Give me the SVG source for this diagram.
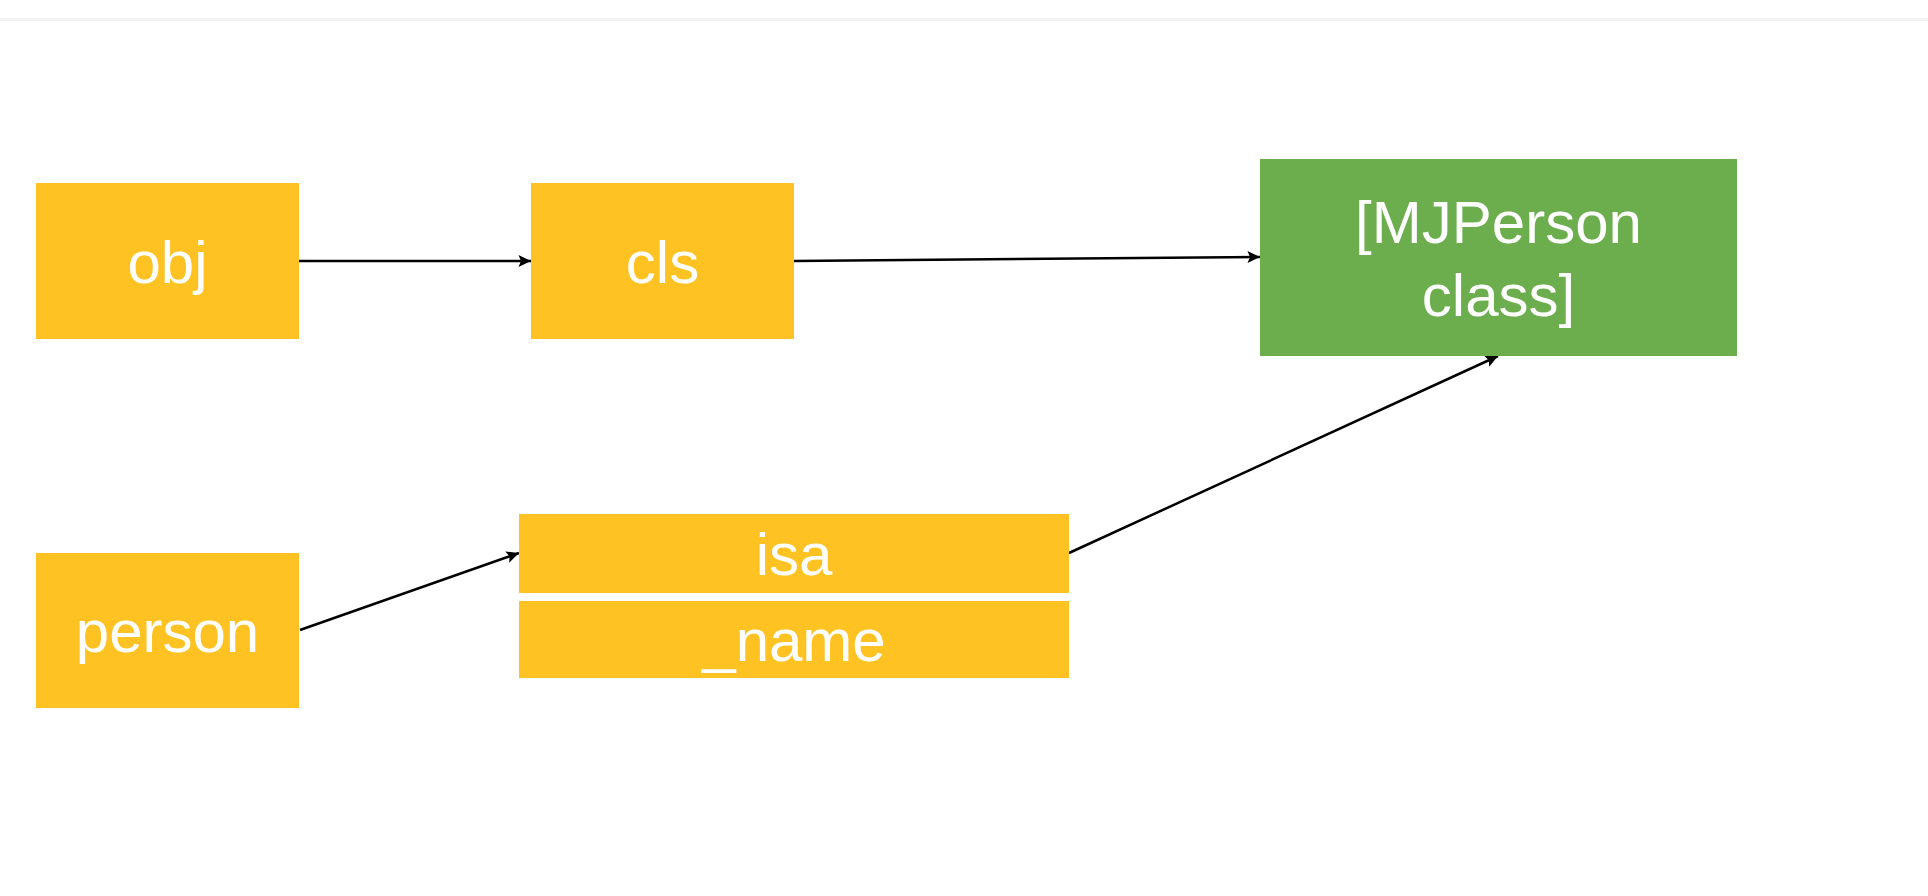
<svg xmlns="http://www.w3.org/2000/svg" width="1928" height="896" viewBox="0 0 1928 896">
  <defs>
    <style>
      .y { fill: #FEC322; }
      .g { fill: #6CAE4D; }
      .t { font-family: "Liberation Sans", Arial, Helvetica, sans-serif; font-size: 60px; fill: #FFFFFF; text-anchor: middle; }
      .c { fill: none; stroke: #000000; stroke-width: 2.5; }
    </style>
    <marker id="arr" markerUnits="userSpaceOnUse" markerWidth="14" markerHeight="14" refX="12.5" refY="6" orient="auto" overflow="visible">
      <path d="M0,0 L12.5,6 L0,12 L2.5,6 Z" fill="#000000"/>
    </marker>
  </defs>
  <rect x="0" y="0" width="1928" height="896" fill="#FFFFFF"/>
  <rect x="0" y="18" width="1928" height="3" fill="#F3F3F3"/>

  <g id="connectors">
    <line class="c" x1="299" y1="261" x2="531" y2="261" marker-end="url(#arr)"/>
    <line class="c" x1="794" y1="261" x2="1260" y2="257" marker-end="url(#arr)"/>
    <line class="c" x1="300" y1="630" x2="519" y2="553" marker-end="url(#arr)"/>
    <line class="c" x1="1069" y1="553" x2="1498" y2="356" marker-end="url(#arr)"/>
  </g>

  <g id="obj">
    <rect class="y" x="36" y="183" width="263" height="156"/>
    <text class="t" x="167.5" y="283">obj</text>
  </g>
  <g id="cls">
    <rect class="y" x="531" y="183" width="263" height="156"/>
    <text class="t" x="662.5" y="283">cls</text>
  </g>
  <g id="mjperson-class">
    <rect class="g" x="1260" y="159" width="477" height="197"/>
    <text class="t" x="1498.5" y="243">[MJPerson</text>
    <text class="t" x="1498.5" y="316">class]</text>
  </g>
  <g id="person">
    <rect class="y" x="36" y="553" width="263" height="155"/>
    <text class="t" x="167.5" y="652">person</text>
  </g>
  <g id="isa">
    <rect class="y" x="519" y="514" width="550" height="79"/>
    <text class="t" x="794" y="575">isa</text>
  </g>
  <g id="name">
    <rect class="y" x="519" y="601" width="550" height="77"/>
    <text class="t" x="794" y="661">_name</text>
  </g>
</svg>
